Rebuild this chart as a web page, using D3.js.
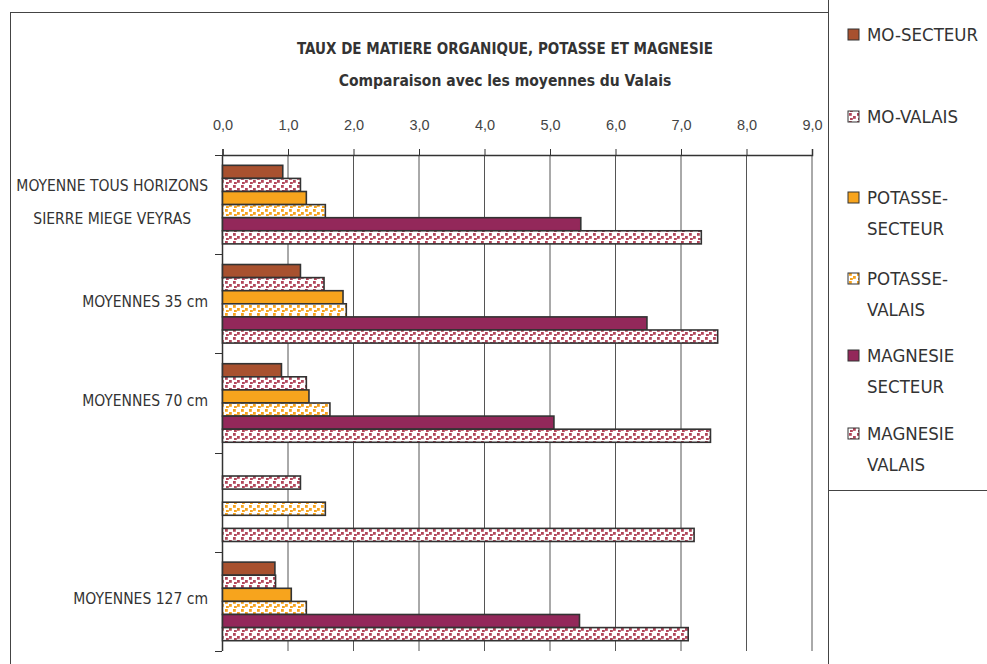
<!DOCTYPE html>
<html>
<head>
<meta charset="utf-8">
<script src="https://cdn.jsdelivr.net/npm/d3@7"></script>
<style>
  body { margin: 0; background: #fff; }
  svg { display: block; }
</style>
</head>
<body>
<svg id="chart" width="987" height="664"></svg>
<script>
// Category labels (each entry split into its printed lines)
const categories = ["c1", "c2", "c3", "c4", "c5"];
const categoryLines = [
  ["MOYENNE TOUS HORIZONS", "SIERRE MIEGE VEYRAS"],
  ["MOYENNES  35 cm"],
  ["MOYENNES 70 cm"],
  [""],
  ["MOYENNES 127 cm"]
];

// Series, top to bottom inside each group
const seriesKeys = ["moSecteur", "moValais", "potSecteur", "potValais", "mgSecteur", "mgValais"];
const seriesLabels = [
  ["MO-SECTEUR"],
  ["MO-VALAIS"],
  ["POTASSE-", "SECTEUR"],
  ["POTASSE-", "VALAIS"],
  ["MAGNESIE", "SECTEUR"],
  ["MAGNESIE", "VALAIS"]
];

const moSecteur  = [0.92, 1.19, 0.90, null, 0.80];
const moValais   = [1.19, 1.55, 1.28, 1.19, 0.81];
const potSecteur = [1.28, 1.84, 1.32, null, 1.05];
const potValais  = [1.57, 1.89, 1.64, 1.57, 1.28];
const mgSecteur  = [5.47, 6.48, 5.06, null, 5.45];
const mgValais   = [7.31, 7.56, 7.45, 7.20, 7.11];

const xTicks = [0, 1, 2, 3, 4, 5, 6, 7, 8, 9];

const seriesValues = [moSecteur, moValais, potSecteur, potValais, mgSecteur, mgValais];

const svg = d3.select("#chart");
const defs = svg.append("defs");

// Fills: solid for the sector series, dotted pattern for the Valais averages
function dotPattern(id, color) {
  const p = defs.append("pattern")
    .attr("id", id).attr("patternUnits", "userSpaceOnUse")
    .attr("width", 8).attr("height", 8);
  p.append("rect").attr("width", 8).attr("height", 8).attr("fill", "#fff");
  [[1, 1], [5, 4], [2, 6]].forEach(([x, y]) => {
    p.append("rect").attr("x", x).attr("y", y).attr("width", 2.8).attr("height", 2.8).attr("fill", color);
  });
}
dotPattern("dotsMO", "#b2475b");
dotPattern("dotsPot", "#f6a21c");
dotPattern("dotsMg", "#b2475b");

const fills = ["#a8512f", "url(#dotsMO)", "#f7a41d", "url(#dotsPot)", "#93285a", "url(#dotsMg)"];

// Outer chart frame and legend box
svg.append("rect").attr("x", 10.5).attr("y", 12.5).attr("width", 818).attr("height", 660)
  .attr("fill", "none").attr("stroke", "#444").attr("stroke-width", 1);
svg.append("rect").attr("x", 828.5).attr("y", -5).attr("width", 170).attr("height", 495.5)
  .attr("fill", "#fff").attr("stroke", "#444").attr("stroke-width", 1);

const labelFont = "'DejaVu Sans Condensed', 'DejaVu Sans'";

// Titles
svg.append("text").attr("x", 505).attr("y", 54).attr("text-anchor", "middle")
  .attr("font-family", labelFont).attr("font-weight", "bold")
  .attr("font-size", 15).attr("fill", "#333")
  .text("TAUX DE MATIERE ORGANIQUE, POTASSE ET MAGNESIE");
svg.append("text").attr("x", 505).attr("y", 86).attr("text-anchor", "middle")
  .attr("font-family", labelFont).attr("font-weight", "bold")
  .attr("font-size", 15.5).attr("fill", "#333")
  .text("Comparaison avec les moyennes du Valais");

// Plot area
const plot = { left: 222, right: 811.5, top: 155, bottom: 651 };

const x = d3.scaleLinear().domain([0, 9]).range([plot.left, plot.right]);
const y = d3.scaleBand().domain(categories).range([plot.top, plot.bottom])
  .paddingInner(0.208).paddingOuter(0.104);
const yInner = d3.scaleBand().domain(seriesKeys).range([0, y.bandwidth()]);

// Vertical gridlines
svg.append("g").selectAll("line").data(xTicks.slice(1)).join("line")
  .attr("x1", d => x(d) + 0.5).attr("x2", d => x(d) + 0.5)
  .attr("y1", plot.top).attr("y2", plot.bottom)
  .attr("stroke", "#555").attr("stroke-width", 1);

// Top axis
const xAxis = d3.axisTop(x).tickValues(xTicks)
  .tickFormat(d => d3.format(".1f")(d).replace(".", ","))
  .tickSize(6).tickPadding(19);
const gx = svg.append("g").attr("transform", `translate(0.5,${plot.top})`).call(xAxis);
gx.select(".domain").attr("stroke", "#333").attr("stroke-width", 1.5);
gx.selectAll(".tick line").attr("stroke", "#333");
gx.selectAll(".tick text").attr("font-family", "'Liberation Sans', Arial").attr("font-size", 14.5).attr("fill", "#444");

// Left axis line with category boundary ticks
const step = y.step();
const edges = categories.map(c => y(c) - step * y.paddingInner() / 2);
edges.push(plot.bottom);
svg.append("line").attr("x1", plot.left + 0.5).attr("x2", plot.left + 0.5)
  .attr("y1", plot.top).attr("y2", plot.bottom).attr("stroke", "#333").attr("stroke-width", 1.5);
svg.append("g").selectAll("line").data(edges).join("line")
  .attr("x1", plot.left - 7).attr("x2", plot.left)
  .attr("y1", d => Math.round(d) + 0.5).attr("y2", d => Math.round(d) + 0.5)
  .attr("stroke", "#333");

// Category labels: multi-line labels are centred as a right-aligned block
categories.forEach((c, i) => {
  const lines = categoryLines[i];
  const cy = y(c) + y.bandwidth() / 2;
  const g = svg.append("g");
  const texts = lines.map((t, j) => g.append("text")
    .attr("font-family", labelFont).attr("font-size", 15.5).attr("fill", "#333")
    .attr("text-anchor", "middle").attr("dominant-baseline", "central")
    .attr("y", cy - 2 + (j - (lines.length - 1) / 2) * 33)
    .text(t));
  const maxW = d3.max(texts, t => t.node().getComputedTextLength());
  texts.forEach(t => t.attr("x", 208 - maxW / 2));
});

// Bars
const barData = [];
categories.forEach((c, i) => {
  seriesKeys.forEach((k, j) => {
    const v = seriesValues[j][i];
    if (v != null) barData.push({ c, k, v, j });
  });
});
svg.append("g").selectAll("rect").data(barData).join("rect")
  .attr("x", x(0) + 0.5)
  .attr("y", d => y(d.c) + yInner(d.k))
  .attr("width", d => x(d.v) - x(0))
  .attr("height", yInner.bandwidth())
  .attr("fill", d => fills[d.j])
  .attr("stroke", "#333").attr("stroke-width", 1.6);

// Legend
const legendRows = [34, 116, 197, 278, 355, 433];
seriesKeys.forEach((k, j) => {
  const ly = legendRows[j];
  svg.append("rect").attr("x", 848).attr("y", ly - 5).attr("width", 11).attr("height", 11)
    .attr("fill", fills[j]).attr("stroke", "#333").attr("stroke-width", 1);
  seriesLabels[j].forEach((t, m) => {
    svg.append("text").attr("x", 867).attr("y", ly + m * 31)
      .attr("dominant-baseline", "central")
      .attr("font-family", labelFont).attr("font-size", 18.5).attr("fill", "#333")
      .text(t);
  });
});
</script>
</body>
</html>
